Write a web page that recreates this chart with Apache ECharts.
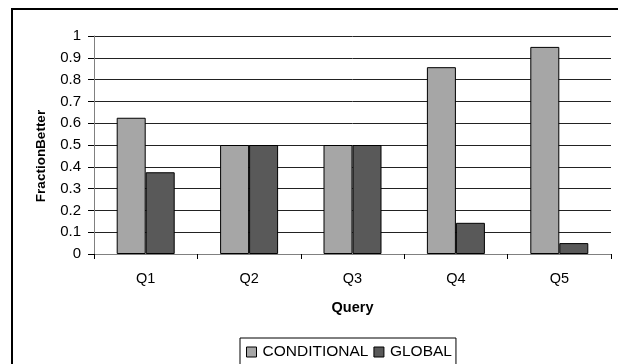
<!DOCTYPE html>
<html>
<head>
<meta charset="utf-8">
<script src="https://cdn.jsdelivr.net/npm/echarts@6/dist/echarts.min.js"></script>
<style>
  html, body { margin: 0; padding: 0; background: #fff; }
  #chart { width: 618px; height: 364px; }
</style>
</head>
<body>
<div id="chart"></div>
<script>
// Query categories and the fraction of cases where each method did better
const queries = ['Q1', 'Q2', 'Q3', 'Q4', 'Q5'];
const conditional = [0.625, 0.5, 0.5, 0.857, 0.95];
const global = [0.375, 0.5, 0.5, 0.143, 0.05];
const yTicks = [0, 0.1, 0.2, 0.3, 0.4, 0.5, 0.6, 0.7, 0.8, 0.9, 1];

const FONT = 'Liberation Sans, Arial, sans-serif';

const chart = echarts.init(document.getElementById('chart'), null, { renderer: 'canvas' });

chart.setOption({
  animation: false,
  backgroundColor: '#fff',
  textStyle: { fontFamily: FONT, color: '#000' },
  graphic: [{
    // chart frame
    type: 'rect',
    shape: { x: 12, y: 9, width: 640, height: 400 },
    style: { fill: 'none', stroke: '#000', lineWidth: 2 },
    silent: true,
    z: 0
  }],
  grid: { left: 94, right: 7, top: 36, bottom: 110 },
  legend: {
    data: ['CONDITIONAL', 'GLOBAL'],
    left: 240,
    top: 338,
    orient: 'horizontal',
    icon: 'rect',
    itemWidth: 10,
    itemHeight: 10,
    itemGap: 5,
    padding: [6, 4, 30, 6],
    borderColor: '#000',
    borderWidth: 1,
    backgroundColor: '#fff',
    itemStyle: { borderColor: '#000', borderWidth: 1 },
    textStyle: { fontFamily: FONT, fontSize: 15.5, color: '#000', padding: [0, 0, 0, 1] }
  },
  xAxis: {
    type: 'category',
    data: queries,
    name: 'Query',
    nameLocation: 'middle',
    nameGap: 46,
    nameTextStyle: { fontFamily: FONT, fontSize: 14.5, fontWeight: 'bold', color: '#000' },
    axisLine: { lineStyle: { color: '#808080', width: 1 } },
    axisTick: { show: true, length: 5, inside: false, lineStyle: { color: '#000' } },
    axisLabel: { fontFamily: FONT, fontSize: 14.5, color: '#000', margin: 17 },
    splitLine: { show: false }
  },
  yAxis: {
    type: 'value',
    min: 0,
    max: 1,
    interval: 0.1,
    name: 'FractionBetter',
    nameLocation: 'middle',
    nameGap: 46,
    nameRotate: 90,
    nameTextStyle: {
      fontFamily: FONT, fontSize: 13.5, fontWeight: 'bold', color: '#000',
      padding: [0, 22, 0, 0]
    },
    axisLine: { show: true, lineStyle: { color: '#808080', width: 1 } },
    axisTick: { show: true, length: 6, lineStyle: { color: '#000' } },
    axisLabel: {
      fontFamily: FONT, fontSize: 15, color: '#000', margin: 13,
      formatter: function (v) {
        const t = yTicks.find(function (x) { return Math.abs(x - v) < 1e-6; });
        return t === undefined ? '' : String(t);
      }
    },
    splitLine: { show: true, lineStyle: { color: '#222', width: 1 } }
  },
  series: [
    {
      name: 'CONDITIONAL',
      type: 'bar',
      data: conditional,
      barWidth: 29,
      barGap: '0%',
      itemStyle: { color: '#a6a6a6', borderColor: '#000', borderWidth: 1 }
    },
    {
      name: 'GLOBAL',
      type: 'bar',
      data: global,
      barWidth: 29,
      barGap: '0%',
      itemStyle: { color: '#595959', borderColor: '#000', borderWidth: 1 }
    }
  ]
});
</script>
</body>
</html>
